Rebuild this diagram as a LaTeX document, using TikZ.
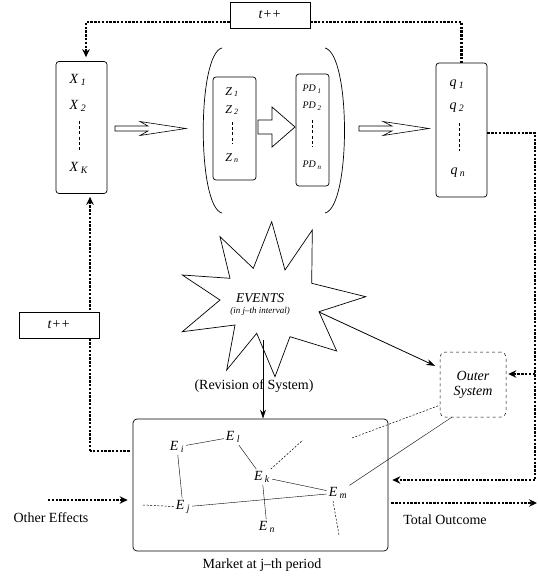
\documentclass[tikz,border=0pt]{standalone}
\usepackage{fontspec}
\setmainfont{Liberation Serif}
\usetikzlibrary{arrows.meta}
\newcommand{\vsub}[2]{\textit{#1}\,\textsubscript{\textit{#2}}}

\begin{document}
\begin{tikzpicture}[x=1pt,y=-1pt,>={Stealth[length=9pt,width=6pt]},
  varbox/.style={draw,rounded corners=3pt,line width=0.7pt,inner sep=0pt},
  plainbox/.style={draw,line width=0.7pt,inner sep=0pt,minimum width=80pt,minimum height=26pt,fill=white,font=\fontsize{14}{16}\selectfont\itshape},
  loopline/.style={line width=2.6pt,dash pattern=on 2.4pt off 1.4pt},
  dotarrow/.style={loopline,-{Stealth[length=8pt,width=7.5pt]}},
  dashlink/.style={line width=0.5pt,dash pattern=on 2pt off 1.6pt},
  vdots/.style={line width=0.8pt,dash pattern=on 3pt off 2.2pt},
  biglabel/.style={font=\fontsize{14}{16}\selectfont},
  zlabel/.style={font=\fontsize{12}{14}\selectfont},
  pdlabel/.style={font=\fontsize{10}{12}\selectfont},
  enode/.style={font=\fontsize{14}{16}\selectfont,inner sep=2pt}]
  \useasboundingbox (0,0) rectangle (538,576);

  % variable boxes
  \node[varbox,minimum width=51pt,minimum height=132pt] (xbox) at (81.5,127.5) {};
  \node[varbox,minimum width=43pt,minimum height=103pt] (zbox) at (234.5,128.5) {};
  \node[varbox,minimum width=33pt,minimum height=112pt] (pdbox) at (312.5,130) {};
  \node[varbox,minimum width=51pt,minimum height=134pt] (qbox) at (461.5,130) {};
  \node[biglabel] (x1) at (78,80) {\vsub{X}{1}};
  \node[biglabel] (x2) at (78,106) {\vsub{X}{2}};
  \node[biglabel] (xk) at (79,168) {\vsub{X}{K}};
  \draw[vdots] (79,121) -- (79,150);
  \node[zlabel] (z1) at (232,92) {\vsub{Z}{1}};
  \node[zlabel] (z2) at (232,110) {\vsub{Z}{2}};
  \node[zlabel] (zn) at (232,158) {\vsub{Z}{n}};
  \draw[vdots] (232,122) -- (232,144);
  \node[pdlabel] (pd1) at (312,89) {\vsub{PD}{1}};
  \node[pdlabel] (pd2) at (312,106) {\vsub{PD}{2}};
  \node[pdlabel] (pdn) at (312,165) {\vsub{PD}{n}};
  \draw[vdots] (312,120) -- (312,147);
  \node[biglabel] (q1) at (457,85) {\vsub{q}{1}};
  \node[biglabel] (q2) at (457,108) {\vsub{q}{2}};
  \node[biglabel] (qn) at (458,173) {\vsub{q}{n}};
  \draw[vdots] (459,123) -- (459,151);

  % brackets and hollow arrows
  \draw[line width=0.7pt] (222,48) .. controls (197,54) and (197,207) .. (222,213);
  \draw[line width=0.7pt] (325,48) .. controls (351,54) and (351,207) .. (325,213);
  \draw[line width=0.6pt] (115,126) -- (148,126) -- (140,121.5) -- (186,128.5) -- (140,135.5) -- (148,131) -- (115,131) -- cycle;
  \draw[line width=0.6pt] (359,126) -- (392,126) -- (383,121.5) -- (429,128.5) -- (383,135.5) -- (392,131) -- (359,131) -- cycle;
  \draw[line width=0.7pt] (258,120) -- (272,120) -- (272,107) -- (295,127) -- (272,147) -- (272,134) -- (258,134) -- cycle;

  % t++ loops
  \node[plainbox] (ttop) at (270,15) {t++};
  \draw[dotarrow,shorten >=4pt] ([yshift=-7pt]ttop.west) -| ([xshift=4.5pt]xbox.north);
  \draw[loopline] ([yshift=-7pt]ttop.east) -| (qbox.north);

  % market and outer system
  \node[varbox,rounded corners=4pt,minimum width=255pt,minimum height=132pt] (mkt) at (260.5,485) {};
  \node[varbox,dashed,rounded corners=5pt,line width=0.5pt,minimum width=66pt,minimum height=65pt,align=center,font=\fontsize{14}{15}\selectfont\itshape] (outer) at (473,384.5) {Outer\\System};
  \node[biglabel] (mktlabel) at (262,565) {Market at j\textendash th period};

  \coordinate (rtop) at (535,133);
  \coordinate (rmid) at (535,374);
  \coordinate (rbot) at (535,480);
  \draw[loopline] ([yshift=-3pt]qbox.east) -- (rtop) -- (rbot);
  \draw[dotarrow,shorten >=4pt] (rbot) -- ([yshift=5pt]mkt.east);
  \draw[dotarrow,shorten >=2pt] (rmid) -- ([yshift=10.5pt]outer.east);

  \coordinate (lbot) at (90,451);
  \draw[loopline,shorten <=3pt] ([yshift=34pt]mkt.west) -- (lbot);
  \draw[dotarrow,shorten >=3pt] (lbot) -- ([xshift=8.5pt]xbox.south);
  \node[plainbox] (tleft) at (59,325) {t++};

  \coordinate (othsrc) at (48,500);
  \draw[dotarrow,shorten >=5pt] (othsrc) -- (othsrc -| mkt.west);
  \node[biglabel] (othlabel) at (51,518) {Other Effects};
  \coordinate (totdst) at (537,503);
  \draw[dotarrow,shorten <=3pt] (totdst -| mkt.east) -- (totdst);
  \node[biglabel] (totlabel) at (445,520) {Total Outcome};

  % events
  \draw[line width=0.7pt] (271.7,221.7) -- (285,270) -- (312.3,230) -- (311.7,283.3) -- (365.7,296.7)
    -- (319,311.7) -- (336.7,351) -- (290,336.7) -- (275,376.7) -- (256.7,333.3) -- (226.7,370)
    -- (235,325) -- (182.3,331.7) -- (220,300) -- (182.3,275) -- (230,278.3) -- (220,236.7)
    -- (253.3,268.3) -- cycle;
  \node[font=\fontsize{13.5}{15}\selectfont\itshape] (events) at (260,298) {EVENTS};
  \node[font=\fontsize{9}{10}\selectfont\itshape] (interval) at (260,311) {(in j\textendash th interval)};
  \coordinate (starbot) at (263,340);
  \coordinate (starright) at (319,312);
  \draw[->,line width=0.8pt] (starbot) -- (starbot |- mkt.north);
  \draw[->,line width=0.8pt,shorten >=5pt] (starright) -- ([yshift=16.5pt]outer.west);
  \node[biglabel] (revision) at (254,386) {(Revision of System)};

  % market elements
  \node[enode] (ei) at (177,447) {\vsub{E}{i}};
  \node[enode] (el) at (233,437) {\vsub{E}{l}};
  \node[enode] (ek) at (262,477) {\vsub{E}{k}};
  \node[enode] (ej) at (183,507) {\vsub{E}{j}};
  \node[enode] (en) at (267,527) {\vsub{E}{n}};
  \node[enode] (em) at (338,493) {\vsub{E}{m}};
  \draw (ei) -- (el);
  \draw (el) -- (ek);
  \draw (ei) -- (ej);
  \draw (ej) -- (em);
  \draw (ek) -- (em);
  \draw (ek) -- (en);
  \draw (em) -- ([xshift=12pt]outer.south west);
  \coordinate (ejfree) at (143,505);
  \coordinate (ekfree) at (303,440);
  \coordinate (emfree) at (339,535);
  \coordinate (mktfree) at (352,438);
  \draw[dashlink] (ej) -- (ejfree);
  \draw[dashlink] (ek) -- (ekfree);
  \draw[dashlink] ([xshift=-5pt]em.south) -- (emfree);
  \draw[dashlink] (mktfree) -- ([yshift=12pt]outer.south west);
\end{tikzpicture}
\end{document}
